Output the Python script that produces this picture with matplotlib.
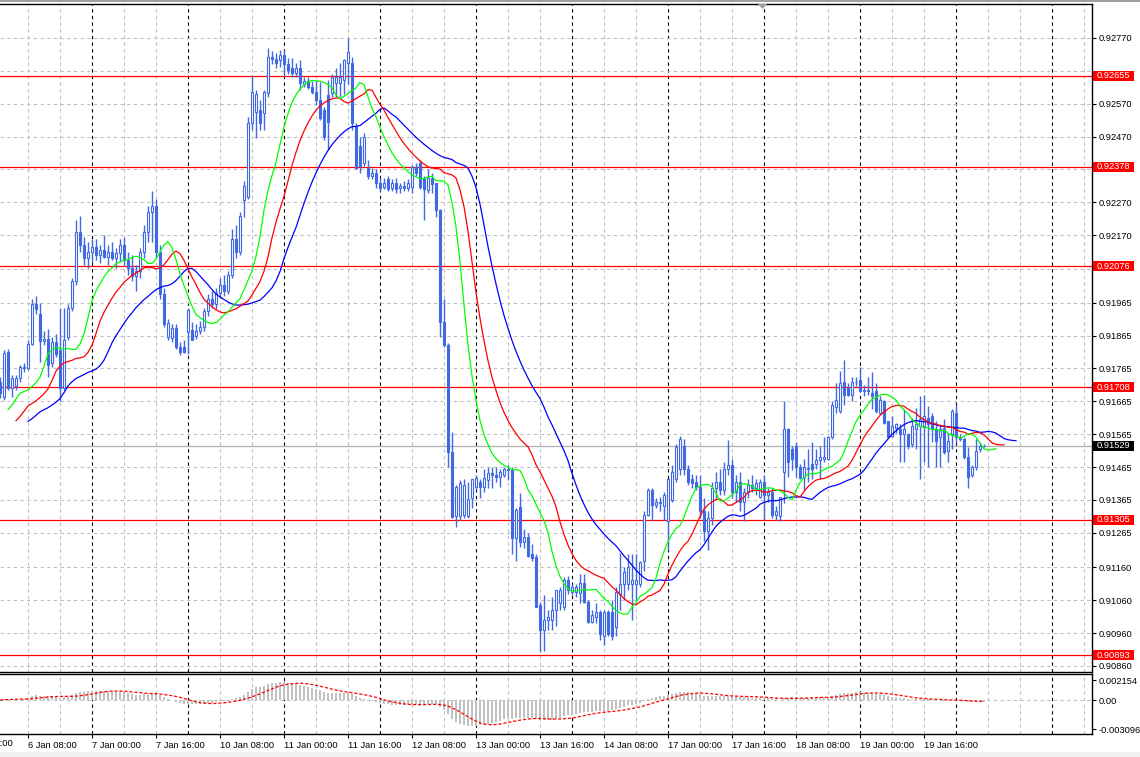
import numpy as np
import pandas as pd
import matplotlib
matplotlib.use("Agg")
import matplotlib.pyplot as plt
import matplotlib.transforms as mtrans
from matplotlib.patches import Rectangle, Polygon

plt.rcParams['font.family'] = ['Liberation Sans', 'DejaVu Sans']

# ---------------- data (H1 bars, 6 Jan 01:00 .. 20 Jan 07:00) ----------------
# prices in units of 0.00001 above 0.90000
PRICE_BASE = 0.90
PRICE_UNIT = 0.00001

opens = [1725,1679,1816,1706,1712,1735,1770,1765,1840,1960,
         1930,1848,1855,1780,1845,1820,1706,1860,1950,2030,
         2180,2140,2100,2120,2135,2110,2125,2105,2120,2100,
         2115,2140,2095,2070,2045,2060,2120,2180,2240,2260,
         2120,1990,1860,1857,1888,1830,1830,1876,1883,1865,
         1880,1890,1940,1975,1960,1995,2020,2000,2050,2160,
         2120,2278,2287,2512,2545,2552,2543,2603,2713,2705,
         2704,2719,2690,2680,2665,2680,2630,2640,2620,2605,
         2582,2551,2597,2603,2634,2634,2643,2695,2695,2500,
         2440,2390,2375,2350,2360,2330,2318,2340,2315,2330,
         2313,2320,2315,2318,2378,2390,2345,2308,2345,2330,
         2248,1905,1837,1512,1315,1315,1320,1315,1370,1403,
         1418,1403,1427,1448,1442,1436,1442,1460,1455,1250,
         1342,1238,1253,1200,1190,1046,970,1000,1000,1031,
         1050,1040,1122,1086,1086,1083,1113,1055,995,1010,
         1025,950,1025,1025,977,1080,1110,1110,1110,1110,
         1110,1180,1320,1396,1350,1360,1345,1300,1365,1430,
         1460,1530,1460,1430,1420,1405,1330,1270,1310,1400,
         1420,1395,1460,1470,1390,1420,1360,1390,1410,1400,
         1375,1420,1380,1390,1320,1315,1450,1580,1520,1530,
         1465,1435,1460,1473,1473,1487,1490,1490,1555,1648,
         1635,1725,1705,1685,1725,1730,1700,1695,1690,1695,
         1630,1665,1605,1560,1585,1580,1565,1565,1535,1580,
         1590,1590,1615,1620,1580,1555,1585,1515,1565,1630,
         1555,1550,1495,1440,1465,1520,1530]

highs = [1740,1820,1825,1745,1745,1775,1780,1850,1975,1985,
         1965,1880,1885,1860,1870,1950,1950,1960,2040,2215,
         2230,2165,2150,2160,2160,2140,2170,2140,2150,2130,
         2160,2165,2120,2110,2080,2130,2200,2260,2305,2280,
         2140,2010,1915,1900,1900,1845,1850,1950,1905,1900,
         1910,1950,1990,2000,2010,2040,2050,2060,2190,2200,
         2240,2335,2530,2658,2612,2582,2612,2740,2730,2725,
         2734,2734,2710,2710,2695,2703,2650,2650,2640,2643,
         2635,2560,2643,2660,2680,2695,2705,2770,2713,2510,
         2470,2480,2400,2375,2370,2345,2345,2350,2340,2345,
         2330,2335,2340,2385,2390,2400,2350,2370,2360,2330,
         2250,1975,1843,1573,1410,1425,1430,1420,1430,1440,
         1430,1460,1465,1466,1466,1460,1466,1470,1465,1340,
         1385,1275,1265,1230,1200,1055,1077,1031,1070,1092,
         1100,1130,1135,1110,1110,1140,1140,1060,1030,1050,
         1030,1030,1030,1061,1100,1204,1160,1200,1200,1200,
         1180,1330,1400,1400,1370,1375,1390,1430,1470,1535,
         1560,1550,1470,1445,1440,1440,1370,1330,1420,1450,
         1460,1480,1548,1490,1440,1450,1400,1430,1440,1430,
         1430,1440,1400,1400,1345,1370,1665,1585,1530,1540,
         1475,1490,1520,1540,1520,1530,1555,1560,1665,1720,
         1756,1790,1720,1740,1740,1770,1715,1740,1755,1720,
         1680,1670,1605,1620,1600,1595,1640,1570,1615,1645,
         1680,1685,1650,1630,1605,1595,1610,1570,1640,1655,
         1565,1555,1525,1470,1550,1540,1535]

lows = [1675,1670,1700,1679,1700,1725,1755,1760,1835,1930,
        1785,1835,1740,1770,1800,1667,1700,1850,1940,2020,
        2120,2080,2070,2090,2095,2085,2100,2080,2095,2070,
        2090,2080,2050,2030,2000,2040,2100,2150,2150,2100,
        1975,1890,1850,1845,1825,1805,1812,1810,1850,1855,
        1870,1880,1925,1950,1945,1980,1985,1990,2040,2100,
        2110,2225,2280,2490,2466,2491,2491,2590,2690,2680,
        2683,2650,2660,2650,2650,2612,2620,2615,2600,2567,
        2521,2460,2430,2590,2591,2591,2600,2630,2491,2370,
        2360,2380,2340,2340,2315,2305,2310,2305,2305,2300,
        2300,2305,2305,2300,2350,2310,2217,2300,2300,2225,
        1860,1830,1466,1310,1284,1305,1310,1310,1340,1395,
        1370,1390,1400,1400,1418,1405,1436,1425,1199,1178,
        1223,1220,1190,1178,1040,901,904,970,970,980,
        1030,1030,1080,1075,1070,1050,1050,990,990,990,
        940,925,950,940,950,1031,1061,1092,1000,1061,
        1100,1150,1315,1305,1340,1330,1305,1213,1360,1420,
        1440,1440,1410,1400,1395,1310,1240,1213,1290,1370,
        1380,1380,1440,1370,1360,1330,1300,1370,1390,1380,
        1370,1305,1360,1310,1305,1300,1357,1435,1455,1435,
        1430,1395,1420,1430,1460,1430,1480,1485,1550,1630,
        1630,1655,1680,1665,1710,1695,1680,1685,1640,1630,
        1625,1595,1555,1555,1570,1480,1480,1520,1525,1520,
        1430,1480,1465,1540,1465,1465,1505,1480,1520,1540,
        1545,1490,1400,1435,1455,1510,1525]

closes = [1690,1813,1706,1735,1735,1770,1765,1840,1960,1945,
          1848,1855,1775,1845,1810,1705,1850,1950,2030,2180,
          2140,2100,2120,2135,2110,2125,2105,2120,2100,2115,
          2140,2095,2070,2045,2060,2120,2180,2240,2260,2120,
          1990,1900,1903,1888,1830,1815,1815,1943,1852,1880,
          1890,1940,1975,1960,1995,2020,2000,2050,2160,2120,
          2230,2320,2512,2606,2600,2512,2606,2713,2705,2695,
          2719,2690,2673,2665,2680,2634,2640,2620,2605,2582,
          2527,2470,2515,2652,2650,2650,2703,2728,2512,2375,
          2380,2470,2350,2360,2330,2315,2330,2310,2330,2310,
          2320,2315,2328,2378,2360,2318,2310,2345,2325,2248,
          1905,1837,1512,1312,1405,1415,1410,1368,1430,1432,
          1405,1433,1448,1442,1436,1451,1460,1457,1250,1335,
          1238,1253,1193,1188,1040,970,1000,1010,1030,1092,
          1092,1122,1092,1100,1100,1113,1055,995,1015,1025,
          956,1025,956,950,1086,1110,1146,1162,1122,1122,
          1175,1320,1396,1350,1360,1355,1380,1430,1450,1525,
          1550,1460,1420,1415,1405,1330,1270,1310,1400,1420,
          1395,1460,1470,1390,1420,1360,1390,1410,1400,1415,
          1420,1380,1390,1320,1330,1375,1580,1480,1490,1465,
          1433,1465,1462,1458,1487,1495,1497,1555,1655,1670,
          1722,1685,1685,1725,1723,1695,1695,1698,1680,1635,
          1670,1600,1555,1590,1595,1565,1580,1530,1590,1595,
          1610,1620,1595,1580,1545,1580,1510,1545,1635,1555,
          1550,1495,1435,1465,1515,1530,1529]

# Alligator line levels at their left-most visible point
jaw_start = 0.91604
teeth_start = 0.91606
lips_start = 0.91640

level_values = [0.92655, 0.92378, 0.92076, 0.91708, 0.91305, 0.90893]
level_labels = ["0.92655", "0.92378", "0.92076", "0.91708", "0.91305", "0.90893"]
bid_value = 0.91529
bid_label = "0.91529"

price_ticks = [0.92770, 0.92670, 0.92570, 0.92470, 0.92370, 0.92270, 0.92170, 0.92068,
               0.91965, 0.91865, 0.91765, 0.91665, 0.91565, 0.91465, 0.91365,
               0.91265, 0.91160, 0.91060, 0.90960, 0.90860]
price_tick_labels = ["0.92770", "", "0.92570", "0.92470", "", "0.92270", "0.92170", "",
                     "0.91965", "0.91865", "0.91765", "0.91665", "0.91565", "0.91465", "0.91365",
                     "0.91265", "0.91160", "0.91060", "0.90960", "0.90860"]

macd_ticks = [0.002154, 0.0, -0.003096]
macd_tick_labels = ["0.002154", "0.00", "-0.003096"]

time_labels = ["5 Jan 16:00", "6 Jan 08:00", "7 Jan 00:00", "7 Jan 16:00", "10 Jan 08:00",
               "11 Jan 00:00", "11 Jan 16:00", "12 Jan 08:00", "13 Jan 00:00", "13 Jan 16:00",
               "14 Jan 08:00", "17 Jan 00:00", "17 Jan 16:00", "18 Jan 08:00", "19 Jan 00:00",
               "19 Jan 16:00"]

# ---------------- derived series ----------------
o = PRICE_BASE + np.array(opens) * PRICE_UNIT
h = PRICE_BASE + np.array(highs) * PRICE_UNIT
l = PRICE_BASE + np.array(lows) * PRICE_UNIT
c = PRICE_BASE + np.array(closes) * PRICE_UNIT
n = len(c)
x = np.arange(1, n + 1)

median = (h + l) / 2.0


def smma(values, period, start):
    out = [start]
    s = start
    for v in values:
        s = (s * (period - 1) + v) / period
        out.append(s)
    return np.array(out)


jaw = smma(median, 13, jaw_start)
teeth = smma(median, 8, teeth_start)
lips = smma(median, 5, lips_start)
x_jaw = np.arange(8, 8 + len(jaw))
x_teeth = np.arange(5, 5 + len(teeth))
x_lips = np.arange(3, 3 + len(lips))

cs = pd.Series(c)
macd_main = cs.ewm(span=12, adjust=False).mean() - cs.ewm(span=26, adjust=False).mean()
macd_signal = macd_main.rolling(9, min_periods=1).mean()

# ---------------- figure ----------------
W, H = 1140, 757
fig = plt.figure(figsize=(W / 100, H / 100), dpi=100)
fig.patch.set_facecolor('white')

ax = fig.add_axes([0, 1 - 672 / H, 1092 / W, (672 - 4) / H])
axm = fig.add_axes([0, 1 - 734 / H, 1092 / W, 60 / H])

CANDLE = '#4169E1'
GRID = '#c0c0c0'
FS = 6.7
dash = (0, (3, 3))

for a in (ax, axm):
    a.set_xlim(1, 274)
    a.spines['left'].set_visible(False)
    for s in ('top', 'right', 'bottom'):
        a.spines[s].set_color('black')
        a.spines[s].set_linewidth(1.0)
    for k in range(8, 275, 8):
        col = 'black' if k % 24 == 0 else GRID
        a.axvline(k, color=col, lw=0.8, linestyle=dash, zorder=0.5)

ax.set_ylim(0.908415, 0.928734)
ax.set_yticks(price_ticks)
ax.set_yticklabels(price_tick_labels)
ax.yaxis.tick_right()
ax.tick_params(axis='y', length=3, width=0.8, pad=2, labelsize=FS, direction='out')
ax.tick_params(axis='x', bottom=False, labelbottom=False)
ax.grid(axis='y', color=GRID, linestyle=dash, lw=0.8, zorder=0.5)

# levels
for lv in level_values:
    ax.axhline(lv, color='red', lw=0.9, zorder=1)
ax.axhline(bid_value, color='#b0b0b0', lw=0.9, zorder=1)

# candles
up = c >= o
ax.vlines(x, l, h, color=CANDLE, lw=1.0, zorder=2)
body_lo = np.minimum(o, c)
body_h = np.abs(c - o)
ax.bar(x[up], body_h[up], bottom=body_lo[up], width=0.55, facecolor='white',
       edgecolor=CANDLE, linewidth=0.8, zorder=3)
ax.bar(x[~up], body_h[~up], bottom=body_lo[~up], width=0.55, facecolor=CANDLE,
       edgecolor=CANDLE, linewidth=0.8, zorder=3)

# alligator
ax.plot(x_jaw, jaw, color='#0000ff', lw=0.9, zorder=4)
ax.plot(x_teeth, teeth, color='#ff0000', lw=0.9, zorder=4)
ax.plot(x_lips, lips, color='#00ff00', lw=0.9, zorder=4)

# price labels in boxes
blend = mtrans.blended_transform_factory(ax.transAxes, ax.transData)
box_w = 41 / 1092
box_h = 10 / 32876
for lv, lab in zip(level_values, level_labels):
    ax.add_patch(Rectangle((1 + 1 / 1092, lv - box_h / 2), box_w, box_h, transform=blend,
                           facecolor='#ff0000', edgecolor='none', clip_on=False, zorder=6))
    ax.text(1 + 1 / 1092 + box_w / 2, lv, lab, transform=blend, ha='center', va='center',
            color='white', fontsize=FS, clip_on=False, zorder=7)
ax.add_patch(Rectangle((1 + 1 / 1092, bid_value - box_h / 2), box_w, box_h, transform=blend,
                       facecolor='black', edgecolor='none', clip_on=False, zorder=6))
ax.text(1 + 1 / 1092 + box_w / 2, bid_value, bid_label, transform=blend, ha='center',
        va='center', color='white', fontsize=FS, clip_on=False, zorder=7)

# MACD panel
axm.set_ylim(-0.00363, 0.00280)
axm.bar(x, macd_main.values, width=0.45, color=GRID, zorder=2)
axm.plot(x, macd_signal.values, color='red', lw=0.9, linestyle=(0, (2.5, 1.5)), zorder=3)
axm.axhline(0, color=GRID, lw=0.8, linestyle=dash, zorder=0.5)
axm.set_yticks(macd_ticks)
axm.set_yticklabels(macd_tick_labels)
axm.yaxis.tick_right()
axm.tick_params(axis='y', length=3, width=0.8, pad=2, labelsize=FS, direction='out')

label_bars = list(range(-8, 233, 16))
axm.set_xticks(label_bars[1:])
axm.set_xticklabels(time_labels[1:])
axm.tick_params(axis='x', length=3, width=0.8, pad=2, labelsize=FS, direction='out')
for t in axm.get_xticklabels():
    t.set_horizontalalignment('left')
bl = mtrans.blended_transform_factory(axm.transData, axm.transAxes)
axm.text(label_bars[0], -5 / 60, time_labels[0], transform=bl, ha='left', va='top',
         fontsize=FS, clip_on=False)

# frame decorations
fig.patches.append(Rectangle((0, 1 - 2 / H), 1, 2 / H, transform=fig.transFigure,
                             facecolor='#a0a0a0', edgecolor='none'))
fig.patches.append(Rectangle((0, 0), 1, 5 / H, transform=fig.transFigure,
                             facecolor='#f0f0f0', edgecolor='none'))
fig.patches.append(Polygon([(758 / W, 1 - 4 / H), (767 / W, 1 - 4 / H), (762.5 / W, 1 - 9 / H)],
                           closed=True, transform=fig.transFigure, facecolor='#a0a0a0',
                           edgecolor='none'))

fig.savefig('out.png', dpi=100)
